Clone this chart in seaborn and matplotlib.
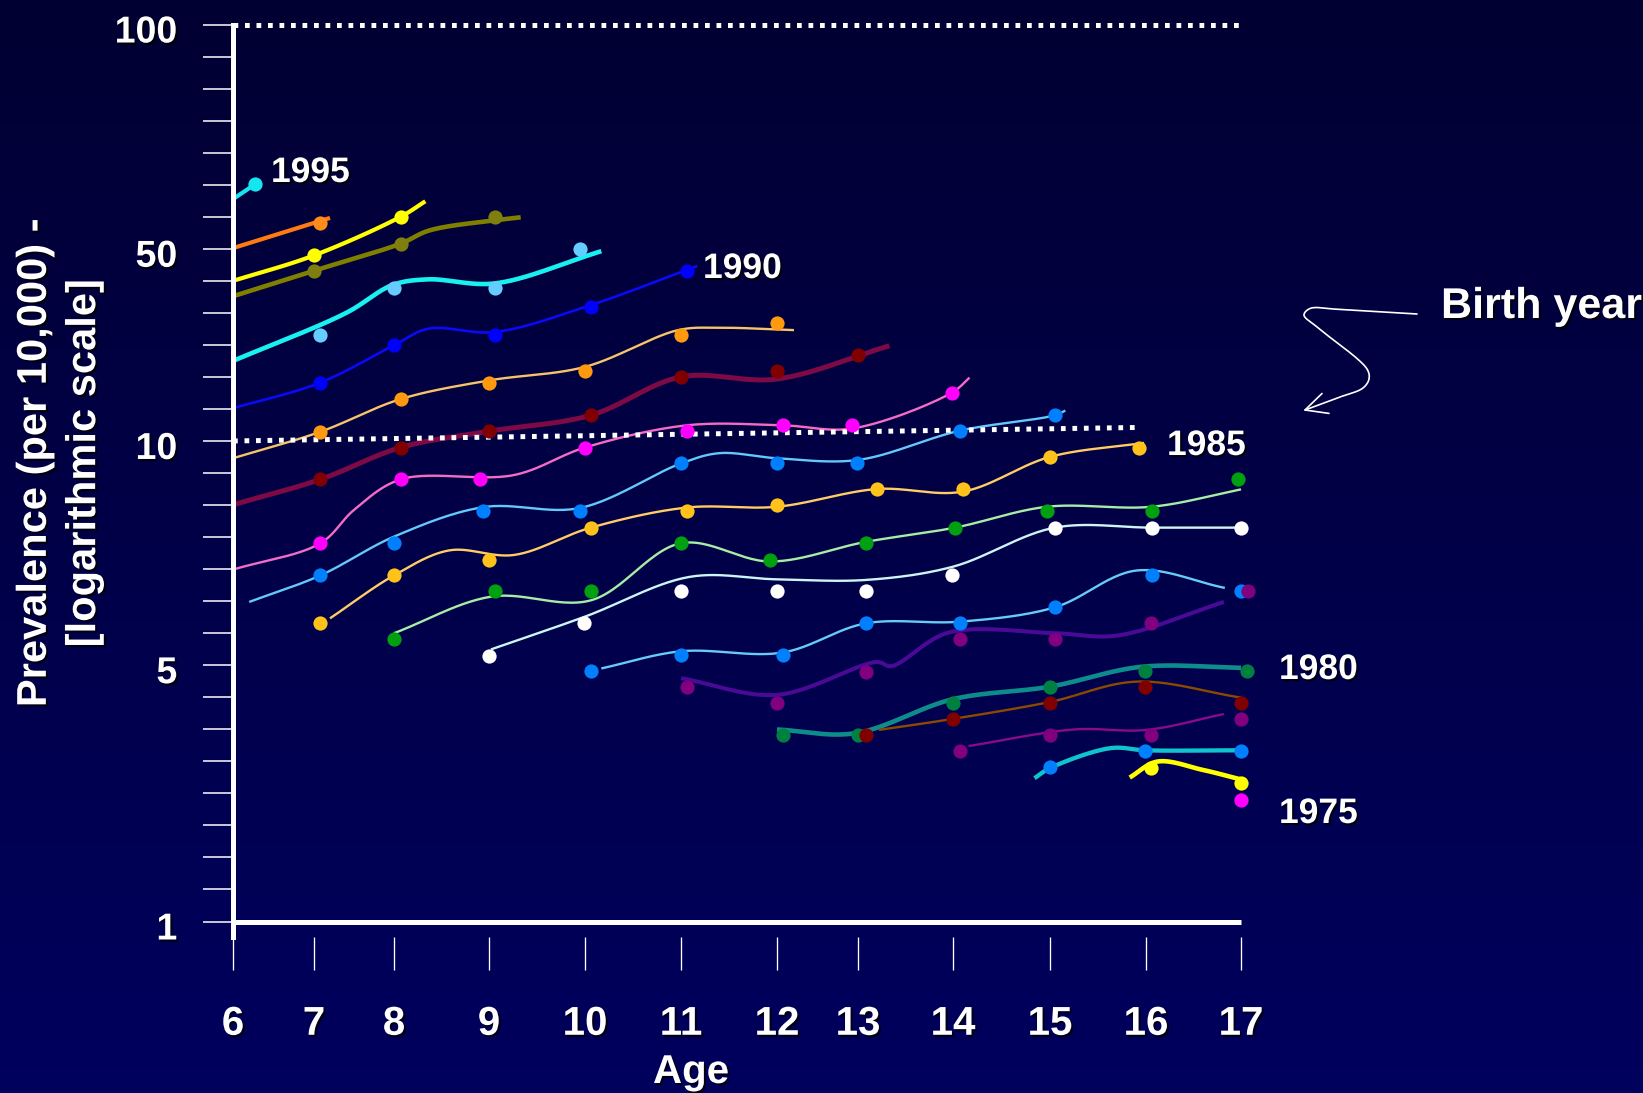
import numpy as np
import matplotlib
matplotlib.use("Agg")
import matplotlib.pyplot as plt
import matplotlib.patheffects as pe
import matplotlib.transforms as mtransforms
import seaborn as sns

# ---------------------------------------------------------------- data
ages = [6, 7, 8, 9, 10, 11, 12, 13, 14, 15, 16, 17]
ytick_values = [1, 5, 10, 50, 100]
birth_years = list(range(1995, 1974, -1))

# observed prevalence (per 10,000) by birth cohort
dot_age = {
    1995: [6.27],
    1994: [7.08],
    1993: [7.0, 8.07],
    1992: [7.0, 8.07, 9.06],
    1991: [7.08, 8.0, 9.06, 9.95],
    1990: [7.08, 8.0, 9.06, 10.06, 11.06],
    1989: [7.08, 8.07, 9.0, 10.0, 11.0, 12.0],
    1988: [7.08, 8.07, 9.0, 10.06, 11.0, 12.0, 13.0],
    1987: [7.08, 8.07, 8.9, 10.0, 11.06, 12.07, 12.93, 13.99],
    1986: [7.08, 8.0, 8.94, 9.95, 11.0, 12.0, 12.99, 14.07, 15.05],
    1985: [7.08, 8.0, 9.0, 10.06, 11.06, 12.0, 13.2, 14.1, 15.0, 15.93],
    1984: [8.0, 9.06, 10.06, 11.0, 11.93, 13.08, 14.02, 14.97, 16.06, 16.97],
    1983: [9.0, 9.99, 11.0, 12.0, 13.08, 13.99, 15.05, 16.06, 17.0],
    1982: [10.06, 11.0, 12.07, 13.08, 14.07, 15.05, 16.06, 17.0],
    1981: [11.06, 12.0, 13.08, 14.07, 15.05, 16.05, 17.07],
    1980: [12.07, 13.0, 14.0, 15.0, 15.99, 17.06],
    1979: [13.08, 14.0, 15.0, 15.99, 17.0],
    1978: [14.07, 15.0, 16.05, 17.0],
    1977: [15.0, 15.99, 17.0],
    1976: [16.05, 17.0],
    1975: [17.0],
}
dot_prev = {
    1995: [61.0],
    1994: [54.2],
    1993: [47.3, 55.2],
    1992: [41.6, 50.8, 55.2],
    1991: [24.2, 36.1, 36.1, 50.0],
    1990: [16.2, 22.3, 24.2, 30.6, 41.6],
    1989: [10.8, 14.2, 16.2, 17.9, 24.2, 26.8],
    1988: [8.88, 9.80, 10.85, 12.4, 17.1, 17.9, 20.5],
    1987: [7.29, 8.88, 8.88, 9.80, 10.85, 11.4, 11.4, 15.0],
    1986: [6.60, 7.29, 8.06, 8.06, 9.33, 9.33, 9.33, 10.9, 12.4],
    1985: [5.69, 6.60, 6.93, 7.65, 8.06, 8.21, 8.62, 8.62, 9.52, 9.80],
    1984: [5.42, 6.29, 6.29, 7.29, 6.93, 7.29, 7.65, 8.05, 8.05, 8.89],
    1983: [5.15, 5.69, 6.29, 6.29, 6.29, 6.60, 7.65, 7.65, 7.65],
    1982: [4.82, 5.16, 5.16, 5.69, 5.69, 5.98, 6.60, 6.29],
    1981: [4.37, 3.94, 4.80, 5.42, 5.42, 5.69, 6.29],
    1980: [3.23, 3.23, 3.94, 4.37, 4.83, 4.83],
    1979: [3.23, 3.57, 3.94, 4.37, 3.94],
    1978: [2.92, 3.23, 3.23, 3.57],
    1977: [2.64, 2.92, 2.92],
    1976: [2.63, 2.38],
    1975: [2.15],
}

# fitted trend curves (vertices of the smoothed cohort curves)
curve_age = {
    1995: [6.0, 6.27],
    1994: [6.0, 7.2],
    1993: [6.0, 7.0, 8.07, 8.33],
    1992: [6.0, 7.0, 8.07, 8.37, 9.06, 9.33],
    1991: [6.0, 7.4, 7.98, 8.36, 9.06, 10.17],
    1990: [6.0, 7.08, 8.0, 8.36, 9.06, 10.06, 11.17],
    1989: [6.0, 7.08, 8.07, 9.0, 10.0, 10.97, 11.4, 12.21],
    1988: [6.0, 7.08, 8.07, 9.0, 10.06, 11.0, 12.0, 13.33],
    1987: [6.0, 7.08, 7.5, 8.07, 9.26, 10.0, 11.06, 12.07, 12.93, 13.99, 14.17],
    1986: [6.2, 7.08, 8.0, 8.94, 9.95, 11.0, 11.4, 12.0, 13.0, 14.07, 15.05, 15.16],
    1985: [7.2, 8.0, 8.58, 9.26, 10.06, 11.06, 12.0, 13.2, 14.1, 15.0, 15.98],
    1984: [8.0, 9.02, 10.06, 11.0, 11.93, 13.08, 14.02, 14.97, 16.06, 17.0],
    1983: [9.02, 10.0, 11.09, 12.0, 13.1, 14.0, 15.05, 16.06, 17.0],
    1982: [10.17, 11.0, 12.07, 13.08, 14.07, 15.05, 15.9, 16.83],
    1981: [11.0, 12.0, 13.2, 13.35, 13.95, 15.05, 15.7, 16.82],
    1980: [12.0, 12.96, 14.0, 15.0, 15.95, 17.0],
    1979: [13.22, 14.0, 15.0, 15.9, 17.0],
    1978: [14.16, 15.25, 16.0, 16.82],
    1977: [14.84, 15.0, 15.63, 16.0, 17.0],
    1976: [15.83, 16.12, 16.6, 17.0],
}
curve_prev = {
    1995: [58.3, 61.0],
    1994: [50.1, 55.0],
    1993: [38.2, 47.3, 55.2, 57.9],
    1992: [33.6, 41.6, 50.8, 52.9, 54.6, 55.1],
    1991: [19.55, 29.2, 36.9, 38.7, 37.4, 49.0],
    1990: [13.15, 16.3, 22.3, 25.6, 24.9, 31.2, 43.3],
    1989: [9.48, 10.8, 14.2, 16.6, 18.6, 25.3, 25.8, 25.3],
    1988: [8.21, 8.88, 9.80, 10.85, 12.4, 17.1, 16.8, 22.2],
    1987: [6.72, 7.29, 8.08, 8.88, 9.0, 9.80, 11.4, 11.4, 11.1, 15.0, 17.0],
    1986: [6.08, 6.60, 7.44, 8.15, 8.13, 9.33, 9.63, 9.48, 9.43, 10.9, 12.4, 12.9],
    1985: [5.78, 6.60, 7.13, 7.03, 7.65, 8.14, 8.16, 8.62, 8.55, 9.52, 9.94],
    1984: [5.52, 6.18, 6.11, 7.29, 6.89, 7.32, 7.65, 8.16, 8.16, 8.61],
    1983: [5.25, 5.81, 6.57, 6.52, 6.51, 6.78, 7.65, 7.65, 7.65],
    1982: [4.90, 5.22, 5.20, 5.69, 5.72, 5.98, 6.70, 6.35],
    1981: [4.61, 4.15, 5.05, 4.97, 5.53, 5.52, 5.48, 6.08],
    1980: [3.34, 3.26, 4.04, 4.37, 4.95, 4.92],
    1979: [3.33, 3.57, 3.97, 4.51, 4.08],
    1978: [3.01, 3.34, 3.33, 3.68],
    1977: [2.46, 2.62, 2.97, 2.93, 2.93],
    1976: [2.47, 2.73, 2.59, 2.44],
}

# dotted reference lines
ref_top_age = [6.0, 17.0]
ref_top_prev = [100.0, 100.0]
ref_mid_age = [6.0, 15.94]
ref_mid_prev = [10.0, 11.2]

# ---------------------------------------------------------------- styles
line_color = {
    1995: "#14E6F0", 1994: "#FF7A12", 1993: "#FFFF00", 1992: "#7F7F00",
    1991: "#19F0F0", 1990: "#0A0AF5", 1989: "#F8C46A", 1988: "#7D0A45",
    1987: "#F46CC6", 1986: "#64C8F8", 1985: "#FFCC66", 1984: "#A6EEA6",
    1983: "#CCF5F5", 1982: "#66CCF5", 1981: "#4A0A96", 1980: "#0E8C8C",
    1979: "#8C4A00", 1978: "#8A0A8A", 1977: "#10C4CC", 1976: "#FFFF00",
}
dot_color = {
    1995: "#14E6F0", 1994: "#FF8C1A", 1993: "#FFFF00", 1992: "#7F7F10",
    1991: "#66CCFF", 1990: "#0000FF", 1989: "#FF9A10", 1988: "#800000",
    1987: "#FF00FF", 1986: "#0080FF", 1985: "#FFC21A", 1984: "#00A010",
    1983: "#FFFFFF", 1982: "#0080FF", 1981: "#800080", 1980: "#008040",
    1979: "#800000", 1978: "#800080", 1977: "#0080FF", 1976: "#FFFF00",
    1975: "#FF00FF",
}
line_width = {
    1995: 3.0, 1994: 3.0, 1993: 3.0, 1992: 3.3, 1991: 3.3, 1990: 1.9,
    1989: 1.7, 1988: 3.6, 1987: 1.7, 1986: 1.7, 1985: 1.7, 1984: 1.7,
    1983: 1.7, 1982: 1.7, 1981: 2.9, 1980: 3.3, 1979: 1.7, 1978: 1.7,
    1977: 3.1, 1976: 3.3,
}

W, H = 1643, 1093
# horizontal placement of the age ticks (pixels) and vertical tick ladder
AGE_PX = [233, 314, 394, 489, 585, 681, 777, 858, 953, 1050, 1146, 1241]
LADDER_POS = [0, 8, 15, 21, 28]          # tick index of 1, 5, 10, 50, 100
PX_PER_STEP = 32.04

# ---------------------------------------------------------------- scales
_ax_ages = np.concatenate([[0.0], ages, [30.0]])
_ax_px = np.concatenate([[AGE_PX[0] - 6 * 80.0], AGE_PX, [AGE_PX[-1] + 13 * 95.0]])


def x_fwd(a):
    return np.interp(np.asarray(a, float), _ax_ages, _ax_px)


def x_inv(p):
    return np.interp(np.asarray(p, float), _ax_px, _ax_ages)


_logs = np.log10(ytick_values)
_lg_ext = np.concatenate([[-20 * _logs[1] / 8], _logs, [2 + 32 * (_logs[4] - _logs[3]) / 7]])
_pos_ext = np.concatenate([[-20.0], LADDER_POS, [60.0]])


def y_fwd(v):
    v = np.clip(np.asarray(v, float), 1e-9, None)
    return np.interp(np.log10(v), _lg_ext, _pos_ext)


def y_inv(p):
    return 10 ** np.interp(np.asarray(p, float), _pos_ext, _lg_ext)


def catmull_rom(pts, n=30, alpha=0.5):
    pts = np.asarray(pts, float)
    if len(pts) < 3:
        return pts
    P = np.vstack([2 * pts[0] - pts[1], pts, 2 * pts[-1] - pts[-2]])
    out = []
    for i in range(1, len(P) - 2):
        A, B, C, D = P[i - 1], P[i], P[i + 1], P[i + 2]
        t0 = 0.0
        t1 = t0 + np.linalg.norm(B - A) ** alpha
        t2 = t1 + np.linalg.norm(C - B) ** alpha
        t3 = t2 + np.linalg.norm(D - C) ** alpha
        t = np.linspace(t1, t2, n)[:, None]
        A1 = (t1 - t) / (t1 - t0) * A + (t - t0) / (t1 - t0) * B
        A2 = (t2 - t) / (t2 - t1) * B + (t - t1) / (t2 - t1) * C
        A3 = (t3 - t) / (t3 - t2) * C + (t - t2) / (t3 - t2) * D
        B1 = (t2 - t) / (t2 - t0) * A1 + (t - t0) / (t2 - t0) * A2
        B2 = (t3 - t) / (t3 - t1) * A2 + (t - t1) / (t3 - t1) * A3
        Cc = (t2 - t) / (t2 - t1) * B1 + (t - t1) / (t2 - t1) * B2
        out.append(Cc if i == 1 else Cc[1:])
    return np.vstack(out)


# ---------------------------------------------------------------- figure
sns.set_theme(style="white")
plt.rcParams["font.family"] = ["Liberation Sans", "DejaVu Sans"]
plt.rcParams["font.weight"] = "bold"

fig = plt.figure(figsize=(W / 100, H / 100), dpi=100)

bg = fig.add_axes([0, 0, 1, 1], zorder=-10)
top_rgb = np.array([2, 0, 50]) / 255
bot_rgb = np.array([0, 0, 94]) / 255
t = np.linspace(0, 1, 400)[:, None, None]
bg.imshow(top_rgb * (1 - t) + bot_rgb * t, aspect="auto", extent=[0, 1, 0, 1])
bg.axis("off")

ax = fig.add_axes([233 / W, 1 - 937 / H, (1241 - 233) / W, (937 - 24.5) / H])
ax.set_facecolor("none")
ax.set_xscale("function", functions=(x_fwd, x_inv))
ax.set_yscale("function", functions=(y_fwd, y_inv))
ax.set_xlim(6, 17)
ax.set_ylim(float(y_inv(-15.5 / PX_PER_STEP)), 100)
ax.grid(False)

for s in ("top", "right", "bottom"):
    ax.spines[s].set_visible(False)
ax.spines["left"].set_color("white")
ax.spines["left"].set_linewidth(3.6)

# y ticks: one per ladder step, labelled at 1, 5, 10, 50, 100
steps = np.arange(LADDER_POS[-1] + 1)
labels = {p: str(v) for p, v in zip(LADDER_POS, ytick_values)}
ax.set_yticks(y_inv(steps), labels=[labels.get(int(p), "") for p in steps])
ax.yaxis.set_minor_locator(matplotlib.ticker.NullLocator())
ax.tick_params(axis="y", which="major", direction="out", length=21.6, width=1.1,
               color="white", pad=18.5, labelsize=27, labelcolor="white", left=True)

ax.set_xticks(ages, labels=[str(a) for a in ages])
ax.xaxis.set_minor_locator(matplotlib.ticker.NullLocator())
ax.tick_params(axis="x", which="major", direction="out", length=23.8, width=0.95,
               color="white", pad=25, labelsize=29, labelcolor="white", bottom=True)

shadow = [pe.withSimplePatchShadow(offset=(1.5, -1.5), shadow_rgbFace="black", alpha=0.75)]
down = mtransforms.ScaledTranslation(0, -4 / 100, fig.dpi_scale_trans)
for lab in ax.get_yticklabels():
    lab.set_path_effects(shadow)
    lab.set_transform(lab.get_transform() + down)
for lab in ax.get_xticklabels():
    lab.set_path_effects(shadow)

# horizontal axis line at prevalence 1
ax.axhline(1.0, color="white", lw=3.6, clip_on=False, zorder=4, solid_capstyle="butt")

# dotted reference lines
for xs, ys in ((ref_top_age, ref_top_prev), (ref_mid_age, ref_mid_prev)):
    ax.plot(xs, ys, color="white", lw=3.6, ls=(0, (0.95, 1.35)),
            dash_capstyle="butt", zorder=2.5, clip_on=False)

# cohort curves, smoothed in display space
for yr in birth_years:
    if yr not in curve_age:
        continue
    pts = np.column_stack([curve_age[yr], curve_prev[yr]])
    disp = ax.transData.transform(pts)
    xy = ax.transData.inverted().transform(catmull_rom(disp))
    sns.lineplot(x=xy[:, 0], y=xy[:, 1], sort=False, estimator=None,
                 color=line_color[yr], linewidth=line_width[yr], ax=ax,
                 clip_on=False, zorder=2, legend=False, solid_capstyle="butt")

# observed points
for yr in birth_years:
    sns.scatterplot(x=dot_age[yr], y=dot_prev[yr], color=dot_color[yr], s=105,
                    linewidth=0, ax=ax, zorder=3, clip_on=False, legend=False)

ax.set_xlabel("")
ax.set_ylabel("")


def px(x, y):
    return x / W, 1 - y / H


# cohort labels
for text, (lx, ly) in {"1995": (271, 182), "1990": (703, 278), "1985": (1167, 455),
                       "1980": (1279, 679), "1975": (1279, 823)}.items():
    fig.text(*px(lx, ly), text, color="white", fontsize=25.5, ha="left",
             va="baseline", path_effects=shadow)

fig.text(*px(1441, 318), "Birth year", color="white", fontsize=31, ha="left",
         va="baseline", path_effects=shadow)
fig.text(*px(691, 1083), "Age", color="white", fontsize=29, ha="center",
         va="baseline", path_effects=shadow)
fig.text(*px(59.5, 463), "Prevalence (per 10,000) -\n[logarithmic scale]",
         color="white", fontsize=30, rotation=90, ha="center", va="center",
         multialignment="center", linespacing=1.3, path_effects=shadow)

# curly pointer from the "Birth year" caption
deco = fig.add_axes([0, 0, 1, 1], zorder=5)
deco.set_xlim(0, W)
deco.set_ylim(H, 0)
deco.axis("off")
deco.patch.set_alpha(0)
curl = catmull_rom([(1417, 314), (1340, 309.5), (1310, 308.5), (1304, 315),
                    (1317, 327), (1367, 369), (1369, 379), (1363, 388),
                    (1340, 397), (1305, 410)])
deco.plot(curl[:, 0], curl[:, 1], color="white", lw=1.2)
deco.plot([1322, 1305, 1329], [393.5, 410, 413.4], color="white", lw=1.2)

fig.savefig("out.png", dpi=100)
